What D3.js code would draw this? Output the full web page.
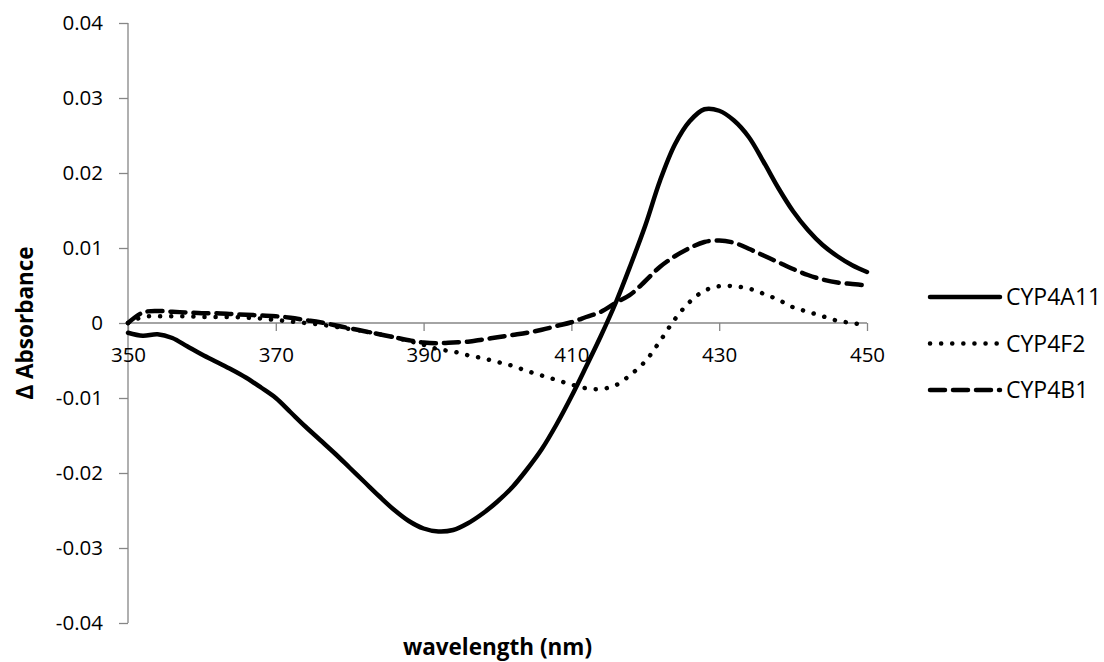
<!DOCTYPE html>
<html>
<head>
<meta charset="UTF-8">
<title>Difference spectra</title>
<script src="https://cdn.jsdelivr.net/npm/d3@7"></script>
<style>
    body { margin: 0; background: #fff; }
    text { font-family: "Open Sans", sans-serif; fill: #000; }
    .axis path, .axis line { stroke: #868686; stroke-width: 1.3; fill: none; }
    .axis text { font-size: 20.5px; }
    .title { font-size: 22.5px; font-weight: bold; }
</style>
</head>
<body>
<svg id="vis" width="1104" height="662"></svg>
<script>
    // wavelength grid (nm)
    let wavelengths = d3.range(350, 451, 2);

    let cyp4a11 = [-0.0013, -0.0017, -0.0015, -0.0020, -0.0031, -0.0042, -0.0052, -0.0062, -0.0073, -0.0086,
        -0.0100, -0.0119, -0.0138, -0.0156, -0.0174, -0.0193, -0.0212, -0.0231, -0.0249, -0.0264,
        -0.0274, -0.0278, -0.0276, -0.0267, -0.0254, -0.0238, -0.0219, -0.0195, -0.0168, -0.0135,
        -0.0098, -0.0058, -0.0017, 0.0027, 0.0077, 0.0130, 0.0190, 0.0238, 0.0269, 0.0285,
        0.0283, 0.0270, 0.0248, 0.0215, 0.0180, 0.0149, 0.0124, 0.0104, 0.0089, 0.0077, 0.0068];

    let cyp4f2 = [0.0000, 0.0008, 0.0009, 0.0009, 0.0009, 0.0008, 0.0008, 0.0008, 0.0007, 0.0006,
        0.0004, 0.0002, 0.0000, -0.0002, -0.0005, -0.0008, -0.0011, -0.0015, -0.0019, -0.0024,
        -0.0029, -0.0035, -0.0038, -0.0043, -0.0047, -0.0052, -0.0057, -0.0064, -0.0070, -0.0076,
        -0.0082, -0.0087, -0.0088, -0.0083, -0.0069, -0.0051, -0.0024, 0.0005, 0.0028, 0.0043,
        0.0049, 0.0049, 0.0046, 0.0039, 0.0031, 0.0021, 0.0015, 0.0009, 0.0003, 0.0000, -0.0003];

    let cyp4b1 = [0.0000, 0.0014, 0.0016, 0.0015, 0.0014, 0.0013, 0.0013, 0.0012, 0.0011, 0.0010,
        0.0009, 0.0007, 0.0004, 0.0001, -0.0003, -0.0007, -0.0011, -0.0015, -0.0019, -0.0023,
        -0.0026, -0.0027, -0.0026, -0.0025, -0.0022, -0.0019, -0.0016, -0.0013, -0.0009, -0.0004,
        0.0001, 0.0008, 0.0015, 0.0027, 0.0038, 0.0056, 0.0075, 0.0089, 0.0100, 0.0108,
        0.0110, 0.0107, 0.0099, 0.0090, 0.0081, 0.0072, 0.0064, 0.0058, 0.0054, 0.0052, 0.0050];

    let seriesNames = ["CYP4A11", "CYP4F2", "CYP4B1"];
    let xTicks = [350, 370, 390, 410, 430, 450];
    let yTicks = [-0.04, -0.03, -0.02, -0.01, 0, 0.01, 0.02, 0.03, 0.04];
    let yTickLabels = ["-0.04", "-0.03", "-0.02", "-0.01", "0", "0.01", "0.02", "0.03", "0.04"];

    let series = [
        {name: seriesNames[0], values: cyp4a11, dash: null, width: 4.5},
        {name: seriesNames[1], values: cyp4f2, dash: "0.1 11", width: 4.5},
        {name: seriesNames[2], values: cyp4b1, dash: "15 8", width: 4.5}
    ];

    let svg = d3.select("#vis");
    let margin = {top: 23, right: 237, bottom: 39, left: 128};
    let width = +svg.attr("width");
    let height = +svg.attr("height");

    let x = d3.scaleLinear().domain([350, 450]).range([margin.left, width - margin.right]);
    let y = d3.scaleLinear().domain([-0.04, 0.04]).range([height - margin.bottom, margin.top]);

    /* axes */
    let yAxis = svg.append("g")
        .attr("class", "axis")
        .attr("transform", "translate(" + margin.left + ",0)")
        .call(d3.axisLeft(y).tickValues(yTicks).tickSize(9).tickPadding(16)
            .tickFormat((d, i) => yTickLabels[i]));
    yAxis.select(".domain").attr("d", "M0," + y(-0.04) + "V" + y(0.04));

    let xAxis = svg.append("g")
        .attr("class", "axis")
        .attr("transform", "translate(0," + y(0) + ")")
        .call(d3.axisBottom(x).tickValues(xTicks).tickSize(8).tickPadding(16));
    xAxis.select(".domain").attr("d", "M" + x(350) + ",0H" + x(450));

    /* lines */
    let line = d3.line()
        .x((d, i) => x(wavelengths[i]))
        .y(d => y(d))
        .curve(d3.curveCatmullRom);

    svg.selectAll(".series")
        .data(series)
        .join("path")
        .attr("class", "series")
        .attr("d", d => line(d.values))
        .attr("fill", "none")
        .attr("stroke", "#000")
        .attr("stroke-width", d => d.width)
        .attr("stroke-linecap", "round")
        .attr("stroke-linejoin", "round")
        .attr("stroke-dasharray", d => d.dash);

    /* legend */
    let legend = svg.selectAll(".legend")
        .data(series)
        .join("g")
        .attr("class", "legend")
        .attr("transform", (d, i) => "translate(930," + (297 + i * 46.5) + ")");

    legend.append("line")
        .attr("x1", 0).attr("x2", 70)
        .attr("stroke", "#000")
        .attr("stroke-width", d => d.width)
        .attr("stroke-linecap", "round")
        .attr("stroke-dasharray", d => d.dash);

    legend.append("text")
        .attr("x", 76)
        .attr("dy", "0.35em")
        .style("font-size", "23px")
        .text(d => d.name);

    /* titles */
    svg.append("text")
        .attr("class", "title")
        .attr("x", (x(350) + x(450)) / 2)
        .attr("y", 655)
        .attr("text-anchor", "middle")
        .text("wavelength (nm)");

    svg.append("text")
        .attr("class", "title")
        .attr("transform", "translate(33," + y(0) + ") rotate(-90)")
        .attr("text-anchor", "middle")
        .text("Δ Absorbance");
</script>
</body>
</html>
